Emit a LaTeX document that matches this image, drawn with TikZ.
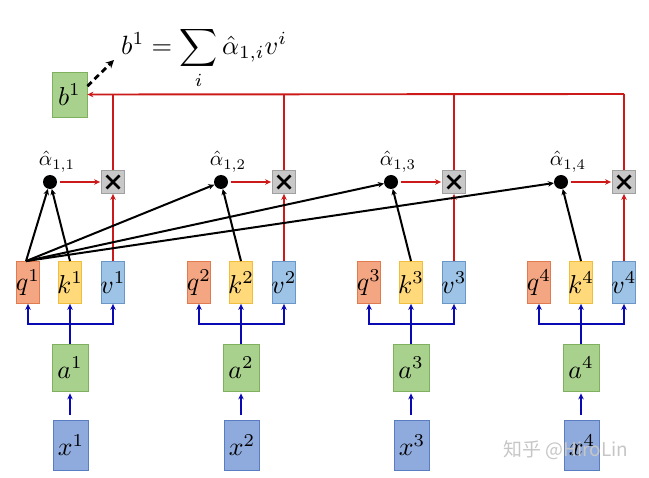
\documentclass[tikz,border=0pt]{standalone}
\usepackage{amsmath}
\usepackage{graphicx}
\usepackage{fontspec}
\newfontfamily\cjkfont{Noto Sans CJK SC}
\usetikzlibrary{arrows.meta}
\definecolor{qfill}{HTML}{F4A582}\definecolor{qdraw}{HTML}{E07B4F}
\definecolor{kfill}{HTML}{FFD97A}\definecolor{kdraw}{HTML}{F0BE3C}
\definecolor{vfill}{HTML}{9DC3E6}\definecolor{vdraw}{HTML}{6A96C8}
\definecolor{gfill}{HTML}{A9D18E}\definecolor{gdraw}{HTML}{7FB05E}
\definecolor{xfill}{HTML}{8FAADC}\definecolor{xdraw}{HTML}{5A7CC0}
\definecolor{mfill}{HTML}{C8C8C8}\definecolor{mdraw}{HTML}{A0A0A0}
\definecolor{redl}{HTML}{CC1A1A}
\definecolor{bluel}{HTML}{0A0AB4}
\newcommand{\bxt}[1]{\makebox[0pt]{\scalebox{2.6}{$#1$}}}
\newcommand{\lbt}[1]{\scalebox{2.1}{$#1$}}
\tikzset{
  cbox/.style={draw, line width=0.8bp, inner sep=0pt},
  qkv/.style={cbox, minimum width=23bp, minimum height=42bp},
  qbox/.style={qkv, fill=qfill, draw=qdraw},
  kbox/.style={qkv, fill=kfill, draw=kdraw},
  vbox/.style={qkv, fill=vfill, draw=vdraw},
  abox/.style={cbox, fill=gfill, draw=gdraw, minimum width=36bp, minimum height=47bp},
  bbox/.style={cbox, fill=gfill, draw=gdraw, minimum width=35bp, minimum height=45bp},
  xbox/.style={cbox, fill=xfill, draw=xdraw, minimum width=35bp, minimum height=50bp},
  mult/.style={draw=mdraw, fill=mfill, minimum size=23bp, inner sep=0pt, line width=0.8bp,
    path picture={\draw[draw=black, line width=2.8bp]
      ([shift={(-6.5bp,-6.5bp)}]path picture bounding box.center) -- ++(13bp,13bp)
      ([shift={(-6.5bp,6.5bp)}]path picture bounding box.center) -- ++(13bp,-13bp);}},
  adot/.style={circle, fill=black, minimum size=14bp, inner sep=0pt},
  lab/.style={inner sep=0pt, anchor=base},
  redline/.style={draw=redl, line width=1.9bp},
  redarr/.style={redline, -{Stealth[length=6bp,width=5.5bp]}},
  bluearr/.style={draw=bluel, line width=2.2bp, -{Stealth[length=6bp,width=5.5bp]}},
  blackarr/.style={draw=black, line width=2bp, -{Stealth[length=6bp,width=5.5bp]}},
  dasharr/.style={draw=black, line width=2.8bp, dash pattern=on 6bp off 4bp, -{Stealth[length=8bp,width=8bp]}}
}
\begin{document}
\begin{tikzpicture}[x=1bp,y=-1bp]
\useasboundingbox (0,0) rectangle (649,478);
\foreach \i/\kx in {1/70,2/241,3/411,4/581}{
  \node[qbox] (q\i) at (\kx-42,282.5) {\bxt{q^{\i}}};
  \node[kbox] (k\i) at (\kx,282.5) {\bxt{k^{\i}}};
  \node[vbox] (v\i) at (\kx+43,282.5) {\bxt{v^{\i}}};
  \node[abox] (a\i) at (\kx,367.5) {\bxt{a^{\i}}};
  \node[xbox] (x\i) at (\kx+1,445) {\bxt{x^{\i}}};
  \node[adot] (d\i) at (\kx-20,182) {};
  \node[mult] (m\i) at (\kx+43,182) {};
  \node[lab] (l\i) at (\kx-13,166) {\lbt{\hat{\alpha}_{1,\i}}};
  \coordinate (bus\i) at (\kx,324);
  \coordinate (top\i) at (\kx+43,94);
  % blue connections
  \draw[bluearr] (a\i.north) -- (k\i.south);
  \draw[bluearr] (bus\i) -| (q\i.south);
  \draw[bluearr] (bus\i) -| (v\i.south);
  \draw[bluearr, shorten <=5bp, shorten >=2bp] (x\i.north -| a\i.south) -- (a\i.south);
  % red connections
  \draw[redarr, shorten <=3bp, shorten >=1bp] (d\i) -- (m\i);
  \draw[redarr] (v\i.north) -- (m\i.south);
  \draw[redline] (m\i.north) -- (top\i);
  % black
  \draw[blackarr] (k\i.north) -- (d\i);
  \draw[blackarr] ([xshift=-2bp]q1.north) -- (d\i);
}
\node[bbox] (b1) at (69.5,94.5) {\bxt{b^1}};
\draw[redarr] (top4) -- (b1.east);
\node[inner sep=0pt, anchor=base west] (f) at (121,55)
  {\scalebox{2.65}{$\displaystyle b^1=\sum_i\hat{\alpha}_{1,i}v^i$}};
\coordinate (dashend) at (114,60);
\draw[dasharr] (b1.25) -- (dashend);
\node[text=gray!45, font=\cjkfont\fontsize{19}{20}\selectfont, inner sep=0pt] (wm) at (566,450) {知乎 @HiroLin};
\end{tikzpicture}
\end{document}
